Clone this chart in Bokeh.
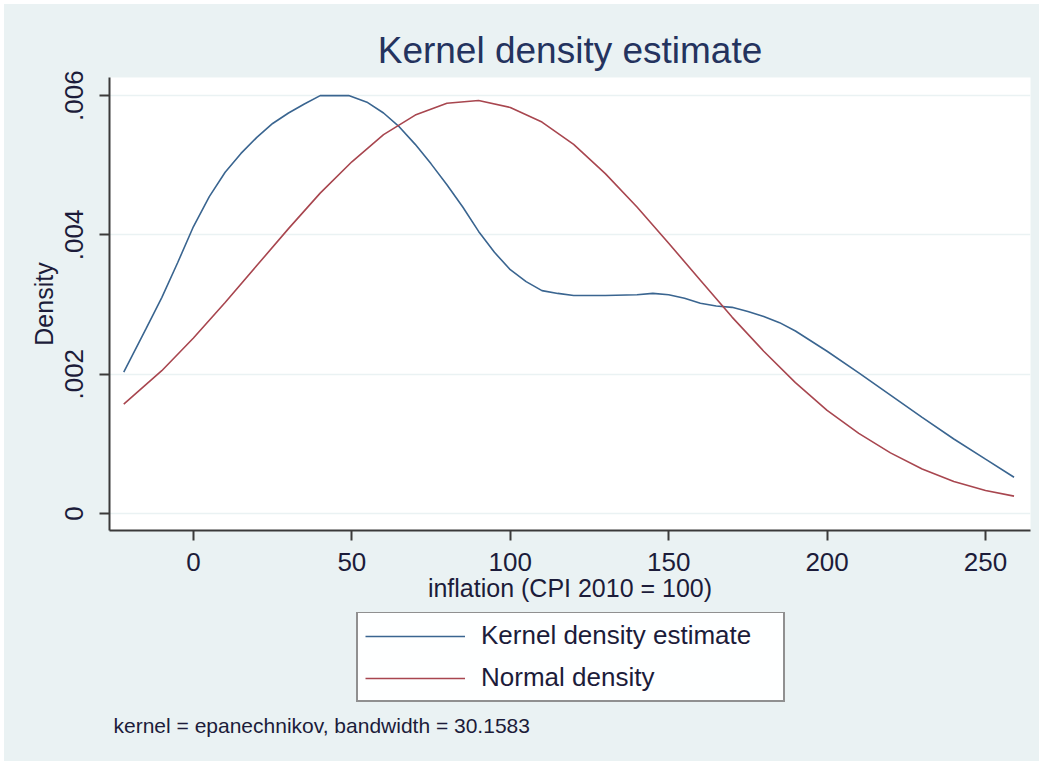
from bokeh.plotting import figure
from bokeh.layouts import column
from bokeh.models import (Range1d, Legend, LegendItem, Label, FixedTicker,
                          CustomJSTickFormatter)
from bokeh.embed import file_html
from bokeh.resources import INLINE

# ---- data ----
kde_x = [-22, -15, -10, -5, 0, 5, 10, 15, 20, 25, 30, 35, 40, 45, 49, 55, 60, 65, 70, 75,
         80, 85, 90, 95, 100, 105, 110, 115, 120, 130, 140, 145, 150, 155, 160, 165, 170,
         175, 180, 185, 190, 200, 210, 220, 230, 240, 250, 259]
kde_y = [0.00203, 0.00265, 0.00310, 0.00360, 0.00412, 0.00455, 0.00490, 0.00517, 0.00540,
         0.00560, 0.00575, 0.00588, 0.00600, 0.00600, 0.00600, 0.00590, 0.00575, 0.00555,
         0.00530, 0.00502, 0.00472, 0.00440, 0.00405, 0.00375, 0.00350, 0.00333, 0.00320,
         0.00316, 0.00313, 0.00313, 0.00314, 0.00316, 0.00314, 0.00309, 0.00302, 0.00298,
         0.00296, 0.00290, 0.00283, 0.00274, 0.00262, 0.00233, 0.00202, 0.00170, 0.00138,
         0.00107, 0.00078, 0.00052]

norm_x = [-22, -10, 0, 10, 20, 30, 40, 50, 60, 70, 80, 90, 100, 110, 120, 130, 140, 150,
          160, 170, 180, 190, 200, 210, 220, 230, 240, 250, 259]
norm_y = [0.00157, 0.00205, 0.00252, 0.00303, 0.00356, 0.00409, 0.00460, 0.00505, 0.00544,
          0.00572, 0.00589, 0.00593, 0.00583, 0.00562, 0.00530, 0.00488, 0.00440, 0.00388,
          0.00335, 0.00282, 0.00233, 0.00188, 0.00148, 0.00115, 0.00087, 0.00064, 0.00046,
          0.00033, 0.00025]

x_ticks = [0, 50, 100, 150, 200, 250]
y_ticks = [0, 0.002, 0.004, 0.006]
y_tick_labels = ["0", ".002", ".004", ".006"]

title_text = "Kernel density estimate"
x_label = "inflation (CPI 2010 = 100)"
y_label = "Density"
series_names = ["Kernel density estimate", "Normal density"]
note_text = "kernel = epanechnikov, bandwidth = 30.1583"

BG = "#EAF2F3"
FONT = "Liberation Sans"
TXT = "#1c1c3a"
BLUE = "#3a6590"
RED = "#a8464f"

# ---------------- main plot ----------------
p = figure(width=1035, height=608, margin=0,
           x_range=Range1d(-26.5, 264.2), y_range=Range1d(-0.000244, 0.00626),
           output_backend="svg", toolbar_location=None,
           min_border_left=105, min_border_right=9, min_border_top=73, min_border_bottom=82)

p.background_fill_color = "white"
p.border_fill_color = BG
p.outline_line_color = None

p.title.text = title_text
p.title.align = "center"
p.title.text_font = FONT
p.title.text_font_size = "37px"
p.title.text_font_style = "normal"
p.title.text_color = "#24335e"
p.title.standoff = 14

p.line(kde_x, kde_y, line_color=BLUE, line_width=1.6)
p.line(norm_x, norm_y, line_color=RED, line_width=1.6)

xa = p.xaxis[0]
ya = p.yaxis[0]
xa.ticker = FixedTicker(ticks=x_ticks)
ya.ticker = FixedTicker(ticks=y_ticks)
ya.formatter = CustomJSTickFormatter(args=dict(tvals=y_ticks, tlabs=y_tick_labels), code="""
    for (let i = 0; i < tvals.length; i++) { if (Math.abs(tick - tvals[i]) < 1e-9) return tlabs[i]; }
    return '';
""")
for ax in (xa, ya):
    ax.axis_line_color = "#3a3a3a"
    ax.axis_line_width = 2
    ax.major_tick_line_color = "#3a3a3a"
    ax.major_tick_line_width = 2
    ax.major_tick_out = 10
    ax.major_tick_in = 0
    ax.minor_tick_out = 0
    ax.minor_tick_in = 0
    ax.major_label_text_font = FONT
    ax.major_label_text_font_size = "26px"
    ax.major_label_text_color = TXT
    ax.axis_label_text_font = FONT
    ax.axis_label_text_font_size = "25px"
    ax.axis_label_text_font_style = "normal"
    ax.axis_label_text_color = TXT

xa.axis_label = x_label
xa.major_label_standoff = 12
xa.axis_label_standoff = 0
ya.axis_label = y_label
ya.major_label_orientation = "vertical"
ya.major_label_standoff = 16
ya.axis_label_standoff = 5

p.xgrid.grid_line_color = None
p.ygrid.grid_line_color = BG
p.ygrid.grid_line_width = 1.5

# ---------------- legend + note strip ----------------
q = figure(width=1035, height=149, margin=0,
           x_range=Range1d(1000, 1001), y_range=Range1d(1000, 1001),
           output_backend="svg", toolbar_location=None,
           x_axis_location=None, y_axis_location=None,
           min_border=0)
q.background_fill_color = BG
q.border_fill_color = BG
q.outline_line_color = None
q.grid.grid_line_color = None
lr1 = q.line(kde_x, kde_y, line_color=BLUE, line_width=1.6)
lr2 = q.line(norm_x, norm_y, line_color=RED, line_width=1.6)

legend = Legend(items=[LegendItem(label=series_names[0], renderers=[lr1]),
                       LegendItem(label=series_names[1], renderers=[lr2])],
                location=(247, 59), orientation="vertical")
legend.label_text_font = FONT
legend.label_text_font_size = "26px"
legend.label_text_color = TXT
legend.glyph_width = 100
legend.glyph_height = 30
legend.label_width = 295
legend.label_height = 30
legend.label_standoff = 16
legend.spacing = 11
legend.padding = 7
legend.margin = 0
legend.border_line_color = "#222222"
legend.border_line_width = 2
legend.background_fill_color = "white"
q.add_layout(legend, "center")

note = Label(x=4, y=36, x_units="screen", y_units="screen", text=note_text,
             text_font=FONT, text_font_size="21px", text_color=TXT,
             text_baseline="middle", text_align="left")
q.add_layout(note)

layout = column(p, q, spacing=0, margin=(4, 4, 4, 4),
                styles={"background-color": BG})
open("out.html", "w").write(file_html(layout, INLINE))
